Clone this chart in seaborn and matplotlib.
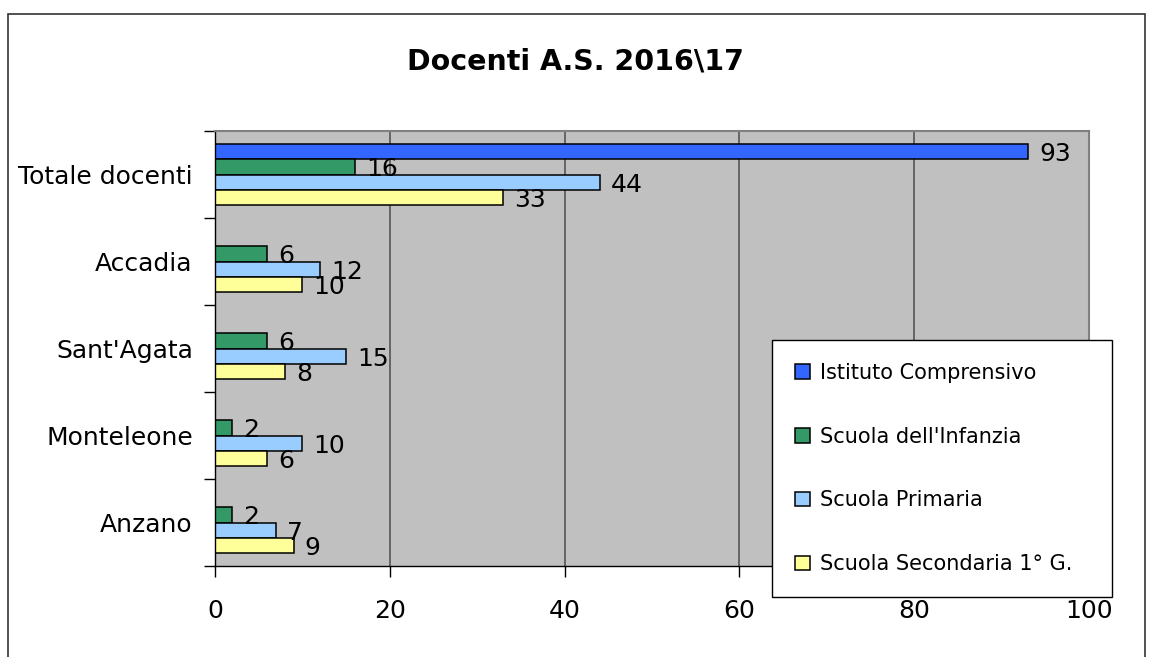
import matplotlib
matplotlib.use("Agg")
import matplotlib.pyplot as plt
import matplotlib.patches as mpatches
import numpy as np
import pandas as pd
import seaborn as sns

# Data
categories = ["Totale docenti", "Accadia", "Sant'Agata", "Monteleone", "Anzano"]
series = [
    "Istituto Comprensivo",
    "Scuola dell'Infanzia",
    "Scuola Primaria",
    "Scuola Secondaria 1° G.",
]
istituto = [93, None, None, None, None]
infanzia = [16, 6, 6, 2, 2]
primaria = [44, 12, 15, 10, 7]
secondaria = [33, 10, 8, 6, 9]
x_ticks = [0, 20, 40, 60, 80, 100]

palette = {
    "Istituto Comprensivo": "#3366FF",
    "Scuola dell'Infanzia": "#339966",
    "Scuola Primaria": "#99CCFF",
    "Scuola Secondaria 1° G.": "#FFFF99",
}

rows = []
for name, values in zip(series, [istituto, infanzia, primaria, secondaria]):
    for cat, val in zip(categories, values):
        if val is not None:
            rows.append({"Sede": cat, "Ordine": name, "Docenti": val})
df = pd.DataFrame(rows)

sns.set_style("white")
plt.rcParams["font.family"] = ["DejaVu Sans"]
plt.rcParams["text.color"] = "black"
plt.rcParams["xtick.color"] = "black"
plt.rcParams["ytick.color"] = "black"
plt.rcParams["xtick.labelcolor"] = "black"
plt.rcParams["ytick.labelcolor"] = "black"

W, H = 1151, 657
fig = plt.figure(figsize=(W / 100, H / 100), dpi=100)
ax = fig.add_axes([215 / W, 1 - 566 / H, (1089 - 215) / W, (566 - 131) / H])
ax.set_facecolor("#C0C0C0")

sns.barplot(
    data=df,
    x="Docenti",
    y="Sede",
    hue="Ordine",
    order=categories,
    hue_order=series,
    palette=palette,
    orient="h",
    width=0.71,
    errorbar=None,
    edgecolor="black",
    linewidth=1.1,
    saturation=1,
    ax=ax,
)

for container in ax.containers:
    texts = ax.bar_label(container, padding=8, fontsize=18, color="black")
    for t in texts:
        t.set_va("center_baseline")

ax.set_xlim(0, 100)
ax.set_xticks(x_ticks)
ax.set_ylim(len(categories) - 0.5, -0.5)
ax.set_yticks(np.arange(-0.5, len(categories), 1), minor=True)
ax.set_xlabel("")
ax.set_ylabel("")

ax.grid(False)
for v in x_ticks[1:-1]:
    ax.axvline(v, color="#555555", linewidth=1.2, zorder=0.5)

ax.tick_params(axis="y", which="major", length=0, pad=16, labelsize=18)
ax.tick_params(axis="y", which="minor", length=8, width=1, color="black", direction="out", left=True)
ax.tick_params(axis="x", which="major", length=8, width=1, color="black", direction="out",
               bottom=True, pad=16, labelsize=18)

for side in ["left", "bottom"]:
    ax.spines[side].set_color("black")
    ax.spines[side].set_linewidth(1.0)
for side in ["top", "right"]:
    ax.spines[side].set_color("#808080")
    ax.spines[side].set_linewidth(1.5)

handles, labels = ax.get_legend_handles_labels()
ax.get_legend().remove()
for h in handles:
    h.set_edgecolor("black")
    h.set_linewidth(1.1)
fig.legend(
    handles, labels,
    loc="upper left",
    bbox_to_anchor=(772 / W, 1 - 597 / H, 340 / W, 257 / H),
    mode="expand",
    frameon=True, fancybox=False, edgecolor="black", framealpha=1,
    borderaxespad=0, borderpad=1.1, labelspacing=2.1,
    handlelength=0.7, handleheight=0.7, handletextpad=0.5,
    fontsize=15,
)

fig.text(575 / W, 1 - 62 / H, "Docenti A.S. 2016\\17", ha="center", va="center",
         fontsize=20.5, fontweight="bold", color="black")

border = mpatches.Rectangle((8 / W, -0.1), (1145 - 8) / W, 1 - 14 / H + 0.1,
                            transform=fig.transFigure, fill=False,
                            edgecolor="#333333", linewidth=1.2)
fig.add_artist(border)

fig.savefig("out.png", dpi=100)
